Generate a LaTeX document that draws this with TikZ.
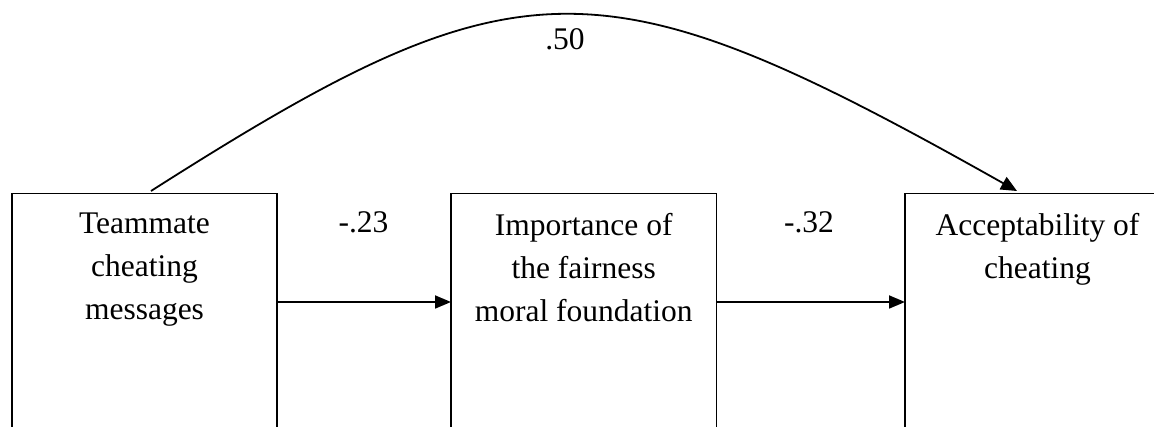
\documentclass[tikz,border=0pt]{standalone}
\usepackage{fontspec}
\setmainfont{Liberation Serif}
\usetikzlibrary{arrows.meta}
\begin{document}
\begin{tikzpicture}[x=1pt,y=1pt,
  box/.style={draw, line width=1.8pt, minimum height=245pt, anchor=north west, inner sep=0pt, outer sep=0pt},
  txt/.style={align=center, anchor=north, inner sep=0pt, font=\fontsize{31.5}{43}\selectfont},
  coef/.style={anchor=base, inner sep=0pt, font=\fontsize{31.5}{43}\selectfont},
  arr/.style={line width=1.8pt, -{Triangle[length=16pt,width=13pt]}}]
\clip (0,0) rectangle (1154,426);
\node[box, minimum width=265pt] (b1) at (12,232.5) {};
\node[box, minimum width=265.5pt] (b2) at (451,232.5) {};
\node[box, minimum width=265pt] (b3) at (905,232.5) {};
\node[txt] (t1) at ([yshift=-19.5pt]b1.north) {Teammate\\cheating\\messages};
\node[txt] (t2) at ([yshift=-19.5pt]b2.north) {Importance of\\the fairness\\moral foundation};
\node[txt] (t3) at ([yshift=-19.5pt]b3.north) {Acceptability of\\cheating};
\coordinate (h) at (0,124);
\draw[arr] (b1.east |- h) -- (b2.west |- h);
\draw[arr] (b2.east |- h) -- (b3.west |- h);
\node[coef] (k1) at (363.5,193) {-.23};
\node[coef] (k2) at (809,193) {-.32};
\coordinate (c1) at ([xshift=6.5pt,yshift=2.5pt]b1.north);
\coordinate (c2) at ([xshift=-20.5pt,yshift=2.5pt]b3.north);
\draw[line width=1.8pt, -{Triangle[length=16pt,width=14pt]}] (c1) .. controls (520,470) and (600,470) .. (c2);
\node[coef] (k3) at (565,376) {.50};
\end{tikzpicture}
\end{document}
